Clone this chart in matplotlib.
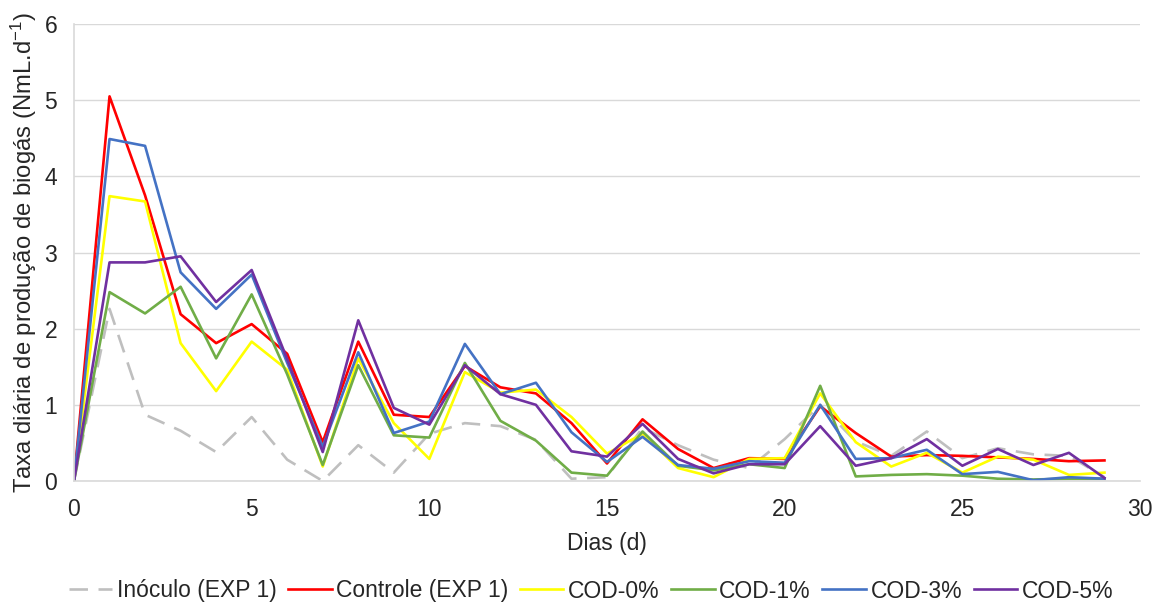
import numpy as np
import matplotlib.pyplot as plt

plt.rcParams['font.family'] = ['Liberation Sans', 'DejaVu Sans']
plt.rcParams['mathtext.fontset'] = 'custom'
plt.rcParams['mathtext.rm'] = 'Liberation Sans'
plt.rcParams['mathtext.default'] = 'rm'

dias = np.arange(0, 30)

inoculo = [0, 2.26, 0.87, 0.66, 0.38, 0.84, 0.28, 0.0, 0.47, 0.11,
           0.62, 0.76, 0.72, 0.54, 0.03, 0.05, 0.70, 0.47, 0.28, 0.17,
           0.55, 1.0, 0.52, 0.33, 0.65, 0.30, 0.43, 0.35, 0.33, 0.05]
controle = [0, 5.05, 3.75, 2.19, 1.81, 2.06, 1.67, 0.51, 1.83, 0.87,
            0.84, 1.51, 1.23, 1.15, 0.76, 0.23, 0.81, 0.42, 0.17, 0.30,
            0.29, 0.98, 0.63, 0.32, 0.34, 0.33, 0.31, 0.29, 0.26, 0.27]
cod0 = [0, 3.74, 3.67, 1.81, 1.18, 1.83, 1.46, 0.19, 1.61, 0.76,
        0.29, 1.43, 1.16, 1.20, 0.84, 0.36, 0.62, 0.17, 0.05, 0.29,
        0.30, 1.15, 0.51, 0.19, 0.37, 0.11, 0.32, 0.28, 0.08, 0.11]
cod1 = [0, 2.48, 2.20, 2.55, 1.61, 2.45, 1.40, 0.21, 1.52, 0.60,
        0.57, 1.55, 0.79, 0.53, 0.11, 0.07, 0.65, 0.20, 0.14, 0.22,
        0.17, 1.25, 0.06, 0.08, 0.09, 0.07, 0.03, 0.02, 0.03, 0.03]
cod3 = [0, 4.49, 4.40, 2.74, 2.26, 2.71, 1.55, 0.45, 1.69, 0.63,
        0.78, 1.80, 1.14, 1.29, 0.64, 0.25, 0.58, 0.21, 0.16, 0.26,
        0.24, 1.00, 0.29, 0.30, 0.41, 0.09, 0.12, 0.01, 0.05, 0.03]
cod5 = [0, 2.87, 2.87, 2.95, 2.35, 2.77, 1.60, 0.38, 2.11, 0.96,
        0.74, 1.52, 1.14, 1.00, 0.39, 0.32, 0.75, 0.29, 0.10, 0.22,
        0.22, 0.72, 0.20, 0.30, 0.55, 0.20, 0.42, 0.21, 0.37, 0.04]

fs = 16.5
txt = '#262626'

fig = plt.figure(figsize=(11.59, 6.05), dpi=100)
ax = fig.add_axes([74 / 1159, 1 - 481 / 605, (1140 - 74) / 1159, (481 - 24) / 605])

lw = 1.9
ax.plot(dias, inoculo, color='#BFBFBF', lw=lw, dashes=(7, 4), label='Inóculo (EXP 1)')
ax.plot(dias, controle, color='#FF0000', lw=lw, label='Controle (EXP 1)')
ax.plot(dias, cod0, color='#FFFF00', lw=lw, label='COD-0%')
ax.plot(dias, cod1, color='#70AD47', lw=lw, label='COD-1%')
ax.plot(dias, cod3, color='#4472C4', lw=lw, label='COD-3%')
ax.plot(dias, cod5, color='#7030A0', lw=lw, label='COD-5%')

ax.set_xlim(0, 30)
ax.set_ylim(0, 6)
ax.set_xticks(range(0, 31, 5))
ax.set_yticks(range(0, 7))
ax.grid(axis='y', color='#D9D9D9', lw=1)
ax.set_axisbelow(True)
for s in ['top', 'right']:
    ax.spines[s].set_visible(False)
for s in ['left', 'bottom']:
    ax.spines[s].set_color('#D9D9D9')
    ax.spines[s].set_linewidth(1.2)
ax.tick_params(length=0, labelsize=fs, labelcolor=txt, pad=12)

ax.set_xlabel('Dias (d)', fontsize=fs, color=txt, labelpad=8)
ax.set_ylabel('Taxa diária de produção de biogás (NmL.d$^{-1}$)', fontsize=17.2,
              color=txt, labelpad=4)

fig.legend(loc='center', bbox_to_anchor=(591 / 1159, 1 - 591 / 605), ncol=6, frameon=False,
           fontsize=fs, handlelength=1.9, handletextpad=0.2, columnspacing=0.5,
           labelcolor=txt)

fig.savefig('out.png', dpi=100)
